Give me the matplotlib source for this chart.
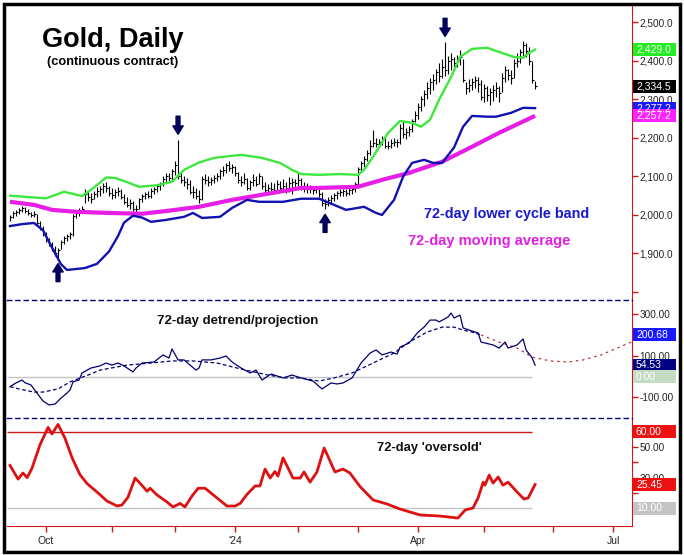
import numpy as np
import matplotlib
matplotlib.use('Agg')
import matplotlib.pyplot as plt
from matplotlib.patches import Rectangle

plt.rcParams['font.family'] = ['Liberation Sans', 'DejaVu Sans']

# ---- price bars (bar index 0 = Sep 14 2023, 175 = May 24 2024) ----
bar_high = [2000, 2010, 2012, 2018, 2024, 2020, 2015, 2008, 2010, 2003,
            1985, 1970, 1956, 1940, 1930, 1920, 1915, 1935, 1945, 1950,
            1956, 2003, 2012, 2018, 2024, 2068, 2062, 2058, 2062, 2072,
            2076, 2084, 2086, 2076, 2070, 2068, 2072, 2066, 2055, 2046,
            2040, 2035, 2026, 2045, 2055, 2060, 2062, 2070, 2072, 2080,
            2086, 2100, 2110, 2108, 2120, 2140, 2195, 2110, 2100, 2095,
            2090, 2076, 2070, 2064, 2100, 2106, 2100, 2098, 2104, 2110,
            2120, 2128, 2136, 2140, 2132, 2128, 2112, 2100, 2110, 2096,
            2090, 2105, 2100, 2110, 2102, 2085, 2080, 2085, 2082, 2090,
            2088, 2094, 2086, 2098, 2095, 2092, 2110, 2095, 2085, 2082,
            2078, 2075, 2076, 2072, 2060, 2040, 2046, 2052, 2058, 2062,
            2068, 2066, 2068, 2070, 2072, 2085, 2125, 2140, 2152, 2168,
            2195, 2220, 2200, 2198, 2206, 2200, 2192, 2196, 2200, 2198,
            2236, 2245, 2226, 2232, 2250, 2270, 2290, 2310, 2325, 2345,
            2355, 2366, 2380, 2395, 2405, 2449, 2412, 2420, 2410, 2415,
            2428, 2405, 2345, 2352, 2356, 2360, 2358, 2350, 2340, 2334,
            2330, 2338, 2345, 2335, 2368, 2386, 2380, 2376, 2405, 2420,
            2432, 2452, 2446, 2436, 2400, 2348]
bar_low = [1985, 1992, 1998, 2003, 2008, 2005, 2000, 1994, 1995, 1975,
           1960, 1945, 1930, 1918, 1905, 1893, 1888, 1912, 1925, 1932,
           1938, 1945, 1992, 1998, 2004, 2030, 2035, 2030, 2040, 2046,
           2050, 2056, 2060, 2050, 2040, 2044, 2050, 2040, 2028, 2020,
           2015, 2010, 2006, 2014, 2034, 2040, 2044, 2045, 2054, 2060,
           2065, 2074, 2085, 2088, 2090, 2104, 2094, 2084, 2074, 2068,
           2055, 2045, 2040, 2031, 2038, 2080, 2075, 2078, 2084, 2088,
           2094, 2100, 2110, 2115, 2108, 2100, 2084, 2074, 2080, 2064,
           2064, 2075, 2074, 2080, 2068, 2058, 2056, 2060, 2056, 2064,
           2060, 2064, 2058, 2060, 2055, 2064, 2070, 2064, 2060, 2058,
           2056, 2054, 2056, 2046, 2024, 2016, 2022, 2030, 2036, 2042,
           2048, 2050, 2048, 2052, 2054, 2060, 2076, 2114, 2125, 2140,
           2155, 2175, 2176, 2175, 2182, 2174, 2172, 2174, 2178, 2175,
           2185, 2200, 2196, 2205, 2214, 2240, 2250, 2270, 2284, 2300,
           2314, 2325, 2340, 2345, 2355, 2360, 2365, 2376, 2378, 2384,
           2390, 2345, 2314, 2320, 2325, 2330, 2320, 2298, 2294, 2296,
           2286, 2296, 2306, 2292, 2320, 2344, 2350, 2340, 2355, 2384,
           2394, 2410, 2410, 2390, 2342, 2326]
bar_close = [1995, 2005, 2008, 2012, 2018, 2010, 2004, 2000, 2003, 1980,
             1965, 1950, 1936, 1925, 1912, 1900, 1908, 1930, 1940, 1944,
             1950, 1998, 2006, 2010, 2016, 2055, 2046, 2042, 2053, 2062,
             2066, 2074, 2070, 2058, 2052, 2060, 2062, 2046, 2034, 2026,
             2030, 2016, 2015, 2040, 2050, 2054, 2050, 2062, 2068, 2075,
             2080, 2094, 2100, 2096, 2114, 2130, 2100, 2090, 2086, 2080,
             2060, 2060, 2050, 2040, 2094, 2090, 2085, 2090, 2096, 2100,
             2114, 2116, 2130, 2122, 2124, 2110, 2090, 2086, 2092, 2070,
             2085, 2090, 2080, 2100, 2075, 2065, 2070, 2068, 2065, 2080,
             2070, 2076, 2070, 2082, 2085, 2084, 2090, 2070, 2074, 2068,
             2066, 2064, 2068, 2054, 2030, 2028, 2038, 2045, 2052, 2058,
             2060, 2062, 2058, 2064, 2068, 2080, 2120, 2135, 2146, 2162,
             2180, 2186, 2184, 2190, 2196, 2180, 2180, 2186, 2190, 2188,
             2226, 2210, 2214, 2222, 2244, 2260, 2280, 2300, 2314, 2330,
             2345, 2350, 2370, 2360, 2385, 2376, 2400, 2404, 2394, 2400,
             2410, 2350, 2330, 2336, 2345, 2350, 2340, 2306, 2330, 2312,
             2318, 2324, 2330, 2316, 2356, 2376, 2364, 2356, 2394, 2400,
             2422, 2440, 2426, 2400, 2350, 2334.5]

# ---- bands and moving average (bar index, value) ----
upper_idx = [0, 5, 12, 18, 24, 27, 32, 35, 38, 43, 49, 54, 58, 63, 68, 77, 84, 90,
             94, 97, 103, 110, 116, 118, 121, 126, 130, 134, 137, 140, 143, 147,
             150, 154, 159, 163, 168, 171, 173, 175]
upper_val = [2050, 2047, 2043, 2060, 2049, 2065, 2097, 2096, 2088, 2073, 2077, 2086,
             2117, 2136, 2148, 2156, 2148, 2135, 2117, 2106, 2104, 2106, 2104, 2117,
             2151, 2213, 2244, 2239, 2229, 2247, 2299, 2358, 2410, 2431, 2434, 2423,
             2410, 2408, 2421, 2429.0]
lower_idx = [0, 4, 8, 11, 14, 17, 19, 25, 29, 33, 36, 38, 41, 44, 47, 52, 58, 61,
             64, 70, 74, 79, 83, 91, 97, 103, 108, 112, 118, 122, 124, 128, 131,
             134, 138, 141, 144, 148, 151, 154, 159, 162, 167, 171, 175]
lower_val = [1971, 1976, 1979, 1960, 1915, 1872, 1857, 1862, 1873, 1905, 1945, 1980,
             1998, 1993, 1982, 1987, 1995, 2005, 1992, 1995, 2018, 2039, 2034, 2034,
             2042, 2042, 2026, 2013, 2021, 2005, 2000, 2039, 2099, 2135, 2143, 2135,
             2135, 2175, 2229, 2257, 2255, 2255, 2265, 2278, 2277.2]
ma_idx = [0, 8, 14, 22, 33, 44, 52, 63, 74, 86, 97, 103, 116, 124, 133, 144, 154,
          163, 175]
ma_val = [2034, 2026, 2013, 2008, 2005, 2003, 2010, 2021, 2039, 2055, 2070, 2070,
          2073, 2091, 2109, 2138, 2177, 2213, 2257.2]

arrow_idx = [16, 56, 105, 145]
arrow_dir = ['up', 'down', 'up', 'down']

# ---- detrend / projection ----
detrend_idx = [0, 2, 4, 5, 7, 9, 11, 13, 15, 17, 19, 20, 21, 23, 24, 27, 30, 32, 34,
               36, 38, 41, 42, 44, 48, 51, 53, 54, 56, 58, 60, 62, 63, 64, 67, 70,
               72, 74, 77, 80, 82, 84, 87, 91, 94, 97, 101, 104, 107, 109, 111, 114,
               117, 120, 122, 124, 127, 129, 130, 133, 136, 138, 140, 142, 143, 146,
               147, 148, 150, 151, 154, 156, 157, 161, 163, 165, 166, 169, 171, 172,
               174, 175]
detrend_val = [-49, -31, -17, -30, -41, -80, -118, -137, -133, -104, -80, -65, -26,
               -17, 17, 41, 51, 65, 55, 65, 51, 22, 41, 65, 70, 104, 89, 133, 80, 80,
               55, 31, 41, 80, 80, 89, 99, 70, 41, 17, 31, -17, 12, -7, 7, -7, -22,
               -60, -31, -36, -31, -7, 65, 113, 128, 104, 118, 108, 142, 161, 214,
               238, 272, 272, 263, 287, 306, 282, 296, 234, 219, 210, 166, 152, 137,
               166, 137, 152, 181, 128, 90, 54.53]
proj_idx = [0, 3, 8, 11, 16, 20, 26, 30, 39, 47, 54, 61, 69, 77, 86, 92, 97, 103,
            108, 114, 121, 128, 133, 139, 144, 148, 151, 154, 157]
proj_val = [-49, -60, -75, -75, -60, -26, 7, 31, 55, 65, 75, 75, 65, 36, 7, -7, -7,
            -22, -7, 17, 65, 113, 166, 214, 238, 238, 224, 214, 200]
future_idx = [157, 163, 169, 174, 180, 186, 191, 197, 207]
future_val = [200, 166, 137, 94, 75, 70, 80, 104, 166]

# ---- 72-day oversold ----
os_idx = [0, 2.7, 4.3, 5.7, 7.3, 10, 12.7, 14, 16, 18.3, 20.7, 23.3, 25.7, 29,
          32.3, 35.7, 37.3, 39.3, 41.7, 43.3, 45.7, 46.7, 49, 52.3, 54.3, 56.7,
          58.3, 60.7, 62.7, 65, 69, 72.3, 75, 76.7, 79, 81.7, 83.3, 85, 86.7, 88.3,
          89.3, 91, 94.3, 96.7, 98, 100, 102.3, 104.7, 108.3, 111, 113.3, 116.7,
          121, 125.7, 130, 136.7, 143.3, 149.3, 151.7, 154.3, 156, 157.7, 158.3,
          159.7, 161, 162.7, 164.3, 166, 169, 171.3, 172.7, 175]
os_val = [38, 29, 33, 30, 36, 51.6, 63, 58.7, 65, 56, 43, 32, 26, 20.5, 14.6, 11.3,
          12, 17, 29.7, 26.4, 21, 23, 18.6, 14, 10.7, 13, 10.7, 18, 23, 23, 16.6,
          11.3, 11.3, 13, 19, 24.5, 24.5, 35.6, 29.7, 34, 31, 43, 29.7, 29.7, 33.7,
          27, 33.7, 49.5, 33.7, 35.6, 33, 24, 15.3, 12.6, 9.3, 5.4, 4.7, 3.4, 8.7,
          10, 16.6, 27, 25, 31.7, 26.4, 30.4, 25, 27, 20.5, 15.9, 16.6, 25.45]

month_ticks = [12, 34, 55, 75, 96, 116, 136, 158, 181, 201]
month_labels = ['Oct', '', '', "'24", '', '', 'Apr', '', '', 'Jul']

W, H = 684, 555
fig = plt.figure(figsize=(W / 100, H / 100), dpi=100)


def fx(px):
    return px / W


def fy(py):
    return 1 - py / H


RED = '#cc1a1a'
NAVY = '#000070'
left, width = fx(7), (632 - 7) / W
ax1 = fig.add_axes([left, fy(300), width, (300 - 5) / H])
ax2 = fig.add_axes([left, fy(418), width, (418 - 300) / H], sharex=ax1)
ax3 = fig.add_axes([left, fy(526), width, (526 - 418) / H], sharex=ax1)

for ax in (ax1, ax2, ax3):
    ax.set_facecolor('none')
    ax.spines['left'].set_visible(False)
    ax.spines['right'].set_color(RED)
    ax.yaxis.tick_right()
    ax.tick_params(axis='y', colors=RED, labelcolor='#222222', labelsize=7.2,
                   length=4, width=1, pad=1.5)
    ax.tick_params(axis='y', which='minor', colors=RED, length=4, width=1)
for ax in (ax1, ax2):
    ax.spines['bottom'].set_visible(False)
    ax.tick_params(axis='x', bottom=False, labelbottom=False)
ax1.spines['top'].set_visible(False)
for ax in (ax2, ax3):
    ax.spines['top'].set_color(NAVY)
    ax.spines['top'].set_linestyle((0, (3, 3)))
    ax.spines['top'].set_linewidth(1)
ax3.spines['bottom'].set_color(RED)

# top panel
x = np.arange(len(bar_close))
ax1.vlines(x, bar_low, bar_high, color='black', lw=0.8, zorder=2)
ax1.hlines(bar_close, x, x + 0.7, color='black', lw=0.8, zorder=2)
ax1.plot(ma_idx, ma_val, color='#e61ee6', lw=3.0, zorder=3, solid_capstyle='butt')
ax1.plot(upper_idx, upper_val, color='#3de83d', lw=1.7, zorder=3)
ax1.plot(lower_idx, lower_val, color='#1212b0', lw=1.7, zorder=3)
for i, d in zip(arrow_idx, arrow_dir):
    if d == 'down':
        xy, off = (i, bar_high[i]), (0, 17)
    else:
        xy, off = (i, bar_low[i]), (0, -17)
    ax1.annotate('', xy=xy, xytext=off, textcoords='offset points',
                 arrowprops=dict(arrowstyle='simple,head_width=0.75,head_length=0.6,tail_width=0.28',
                                 color='#00005a', shrinkA=0, shrinkB=4, mutation_scale=10),
                 zorder=4)
ax1.set_ylim(1779, 2545)
ax1.set_yticks([1800, 1900, 2000, 2100, 2200, 2300, 2400, 2500])
ax1.set_yticklabels(['', '1,900.0', '2,000.0', '2,100.0', '2,200.0', '2,300.0',
                     '2,400.0', '2,500.0'])

# middle panel
ax2.hlines(0, -1, 174, color='#c4c4c4', lw=1)
ax2.plot(proj_idx, proj_val, color=NAVY, lw=0.9, ls=(0, (3, 2)))
ax2.plot(future_idx, future_val, color='#c0303a', lw=0.9, ls=(0, (2, 3)))
ax2.plot(detrend_idx, detrend_val, color=NAVY, lw=0.9)
ax2.set_ylim(-200, 368.7)
ax2.set_yticks([300, 100, -100])
ax2.set_yticklabels(['300.00', '100.00', '-100.00'])
ax2.set_yticks([200, 0], minor=True)

# bottom panel
ax3.hlines(60, -1, 174, color=RED, lw=1)
ax3.hlines(10, -1, 174, color='#c4c4c4', lw=1)
ax3.plot(os_idx, os_val, color='#dd1111', lw=2.0)
ax3.set_ylim(-1.84, 69.2)
ax3.set_yticks([50, 30])
ax3.set_yticklabels(['50.00', '30.00'])
ax3.set_yticks([40, 20], minor=True)

ax3.set_xlim(-1, 207.3)
ax3.set_xticks(month_ticks)
ax3.set_xticklabels(month_labels)
ax3.tick_params(axis='x', colors=RED, labelcolor='#222222', labelsize=7.5,
                length=4, width=1, pad=3)

# titles and labels
fig.text(fx(42), fy(47), 'Gold, Daily', fontsize=19.5, fontweight='bold', va='baseline')
fig.text(fx(47), fy(62), '(continuous contract)', fontsize=9.2, fontweight='bold',
         va='center')
fig.text(fx(424), fy(214), '72-day lower cycle band', fontsize=10.4, fontweight='bold',
         color='#1a1acc', va='center')
fig.text(fx(408), fy(241), '72-day moving average', fontsize=10.5, fontweight='bold',
         color='#e020e0', va='center')
fig.text(fx(157), fy(321), '72-day detrend/projection', fontsize=9.5, fontweight='bold',
         va='center', color='#111111')
fig.text(fx(377), fy(448), "72-day 'oversold'", fontsize=9.4, fontweight='bold',
         va='center', color='#111111')


def value_box(ax, val, text, fc, tc='white'):
    ypix = ax.transData.transform((0, val))[1]
    yf = ypix / fig.bbox.height
    fig.patches.append(Rectangle((fx(633), yf - 6.5 / H), 43 / W, 13 / H,
                                 transform=fig.transFigure, fc=fc, ec='none', zorder=5))
    fig.text(fx(636), yf, text, color=tc, fontsize=7.5, va='center', ha='left', zorder=6)


value_box(ax1, 2429.0, '2,429.0', '#22ee22')
value_box(ax1, 2334.5, '2,334.5', '#000000')
value_box(ax1, 2277.2, '2,277.2', '#1a1aff')
value_box(ax1, 2257.2, '2,257.2', '#ff22ff')
value_box(ax2, 200.68, '200.68', '#1a1aff')
value_box(ax2, 54.53, '54.53', '#000080')
value_box(ax2, 0.0, '0.00', '#c4dcc4')
value_box(ax3, 60.0, '60.00', '#ee1111')
value_box(ax3, 25.45, '25.45', '#ee1111')
value_box(ax3, 10.0, '10.00', '#c4c4c4')

fig.patches.append(Rectangle((fx(3.5), fy(551.5)), 676 / W, 548 / H,
                             transform=fig.transFigure, fill=False, ec='black', lw=2.5,
                             zorder=10))

fig.savefig('out.png', dpi=100)
